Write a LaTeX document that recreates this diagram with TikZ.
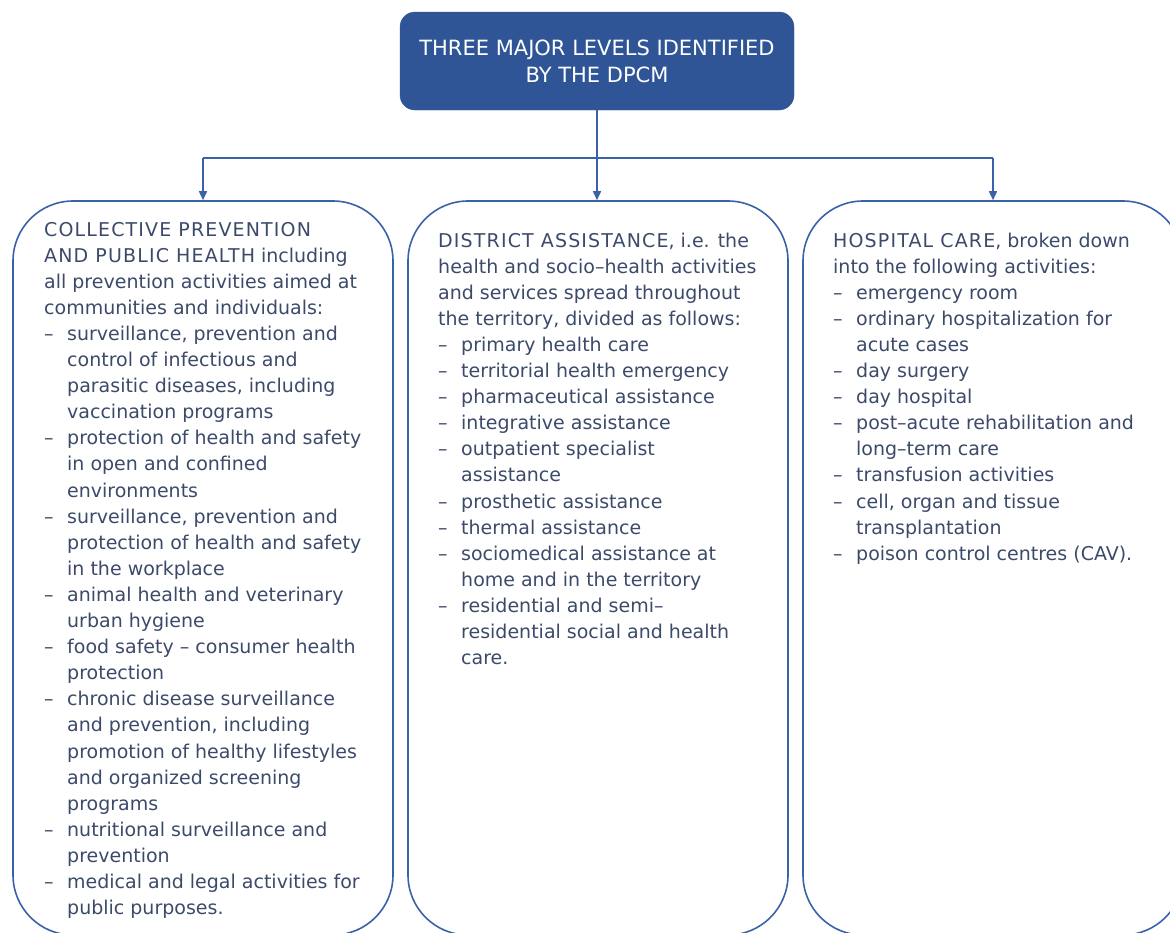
\documentclass[tikz,border=0pt]{standalone}
\usepackage{fontspec}
\newfontfamily\diagfont{DejaVu Sans}
\usetikzlibrary{arrows.meta}
\definecolor{navy}{HTML}{2F5597}
\definecolor{edgeblue}{HTML}{3A62A8}
\definecolor{bodytext}{HTML}{3C4A6A}
\newcommand\dashitem{\makebox[23pt][l]{–}}
\newcommand\contline{\hspace*{23pt}}
\newcommand\capsrun[1]{{\addfontfeature{LetterSpace=6}#1}}
\begin{document}
\begin{tikzpicture}[x=1pt,y=-1pt,
  levelbox/.style={draw=edgeblue, line width=1.6pt, rounded corners=60pt,
    minimum width=380pt, minimum height=734pt, inner sep=0pt},
  headbox/.style={fill=navy, draw=navy, rounded corners=15pt,
    minimum width=394pt, minimum height=98pt, text=white, align=center,
    font=\diagfont\fontsize{21}{27}\selectfont},
  link/.style={draw=edgeblue, line width=1.6pt},
  arrowlink/.style={link, -{Triangle[length=9pt,width=8pt]}},
  bodytxt/.style={anchor=base west, inner sep=0pt, text=bodytext,
    font=\diagfont\fontsize{19}{26.1}\selectfont}
]
\useasboundingbox (0,0) rectangle (1170,932);
\clip (0,0) rectangle (1170,932);

% header
\node[headbox] (top) at (597,61) {THREE MAJOR LEVELS IDENTIFIED\\BY THE DPCM};

% the three levels
\node[levelbox] (left)  at (203,568) {};
\node[levelbox] (mid)   at (598,568) {};
\node[levelbox] (right) at (993,568) {};

% connectors
\coordinate (jL) at (203,158);
\coordinate (jR) at (993,158);
\draw[link] (jL) -- (jR);
\draw[arrowlink] (top.south) -- (top.south |- mid.north);
\draw[arrowlink] (jL) -- (left.north);
\draw[arrowlink] (jR) -- (right.north);

% box texts
\node[bodytxt] (lefttext) at (44,236) {\parbox[t]{345pt}{\raggedright
\capsrun{COLLECTIVE PREVENTION}\\
\capsrun{AND PUBLIC HEALTH} including\\
all prevention activities aimed at\\
communities and individuals:\\
\dashitem surveillance, prevention and\\
\contline control of infectious and\\
\contline parasitic diseases, including\\
\contline vaccination programs\\
\dashitem protection of health and safety\\
\contline in open and confined\\
\contline environments\\
\dashitem surveillance, prevention and\\
\contline protection of health and safety\\
\contline in the workplace\\
\dashitem animal health and veterinary\\
\contline urban hygiene\\
\dashitem food safety – consumer health\\
\contline protection\\
\dashitem chronic disease surveillance\\
\contline and prevention, including\\
\contline promotion of healthy lifestyles\\
\contline and organized screening\\
\contline programs\\
\dashitem nutritional surveillance and\\
\contline prevention\\
\dashitem medical and legal activities for\\
\contline public purposes.}};

\node[bodytxt] (midtext) at (438,247) {\parbox[t]{345pt}{\raggedright
\capsrun{DISTRICT ASSISTANCE}, i.e. the\\
health and socio–health activities\\
and services spread throughout\\
the territory, divided as follows:\\
\dashitem primary health care\\
\dashitem territorial health emergency\\
\dashitem pharmaceutical assistance\\
\dashitem integrative assistance\\
\dashitem outpatient specialist\\
\contline assistance\\
\dashitem prosthetic assistance\\
\dashitem thermal assistance\\
\dashitem sociomedical assistance at\\
\contline home and in the territory\\
\dashitem residential and semi–\\
\contline residential social and health\\
\contline care.}};

\node[bodytxt] (righttext) at (833,247) {\parbox[t]{330pt}{\raggedright
\capsrun{HOSPITAL CARE}, broken down\\
into the following activities:\\
\dashitem emergency room\\
\dashitem ordinary hospitalization for\\
\contline acute cases\\
\dashitem day surgery\\
\dashitem day hospital\\
\dashitem post–acute rehabilitation and\\
\contline long–term care\\
\dashitem transfusion activities\\
\dashitem cell, organ and tissue\\
\contline transplantation\\
\dashitem poison control centres (CAV).}};
\end{tikzpicture}
\end{document}
